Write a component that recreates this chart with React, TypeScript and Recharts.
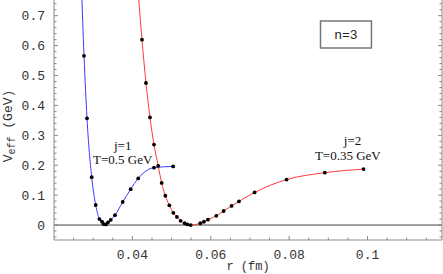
import { LineChart, Line, XAxis, YAxis, ReferenceLine, ReferenceDot, ReferenceArea } from 'recharts';

// j=1 curve (T=0.5 GeV); first point lies above the frame, it only sets the slope at the top
const BLUE_R = [0.027, 0.02766, 0.02842, 0.02962, 0.03064, 0.03159, 0.03225, 0.03268, 0.03327, 0.03378, 0.03447, 0.03556, 0.03753, 0.03957, 0.04148, 0.04551, 0.0504];
const BLUE_V = [0.8, 0.566, 0.357, 0.16, 0.067, 0.02, 0.011, 0.003, 0.002, 0.009, 0.017, 0.033, 0.077, 0.12, 0.156, 0.192, 0.196];

// j=2 curve (T=0.35 GeV)
const RED_R = [0.041, 0.04245, 0.04347, 0.04449, 0.04551, 0.04658, 0.04747, 0.04841, 0.04943, 0.05045, 0.05137, 0.05232, 0.05334, 0.05402, 0.05487, 0.05734, 0.05826, 0.05928, 0.06142, 0.06328, 0.06532, 0.06718, 0.07118, 0.07934, 0.08911, 0.09897];
const RED_V = [0.86, 0.62, 0.475, 0.36, 0.269, 0.198, 0.141, 0.098, 0.066, 0.041, 0.027, 0.014, 0.006, 0.002, 0.0, 0.006, 0.011, 0.018, 0.031, 0.047, 0.064, 0.079, 0.109, 0.152, 0.175, 0.187];

const X_DOMAIN = [0.02, 0.119];
const Y_DOMAIN = [-0.05, 0.7525];

const X_MAJOR = [0.04, 0.06, 0.08, 0.1];
const X_LABELS = ['0.04', '0.06', '0.08', '0.1'];
const Y_MAJOR = [0, 0.1, 0.2, 0.3, 0.4, 0.5, 0.6, 0.7];
const Y_LABELS = ['0', '0.1', '0.2', '0.3', '0.4', '0.5', '0.6', '0.7'];

// minor ticks: every 0.005 on r, every 0.02 on V
const X_TICKS: number[] = [];
for (let i = 5; i <= 23; i++) X_TICKS.push(+(i * 0.005).toFixed(3));
const Y_TICKS: number[] = [];
for (let i = -2; i <= 37; i++) Y_TICKS.push(+(i * 0.02).toFixed(2));

const blueData = BLUE_R.map((r, i) => ({ r, v: BLUE_V[i] }));
const redData = RED_R.map((r, i) => ({ r, v: RED_V[i] }));

const MONO = '"Liberation Mono", "Courier New", monospace';
const SERIF = '"Liberation Serif", "Times New Roman", serif';
const FRAME = '#8a8a8a';

const majorIndex = (list: number[], v: number) => list.findIndex((m) => Math.abs(m - v) < 1e-6);

const BottomTick = ({ x, y, payload }: any) => {
  const i = majorIndex(X_MAJOR, payload.value);
  return (
    <g>
      <line x1={x} x2={x} y1={y} y2={y - (i >= 0 ? 4 : 2.5)} stroke={FRAME} />
      {i >= 0 && (
        <text x={x} y={y + 19} textAnchor="middle" fontFamily={MONO} fontSize={13} fill="#333">
          {X_LABELS[i]}
        </text>
      )}
    </g>
  );
};

const TopTick = ({ x, y, payload }: any) => {
  const i = majorIndex(X_MAJOR, payload.value);
  return <line x1={x} x2={x} y1={y} y2={y + (i >= 0 ? 4 : 2.5)} stroke={FRAME} />;
};

const LeftTick = ({ x, y, payload }: any) => {
  const i = majorIndex(Y_MAJOR, payload.value);
  return (
    <g>
      <line x1={x} x2={x + (i >= 0 ? 4 : 2.5)} y1={y} y2={y} stroke={FRAME} />
      {i >= 0 && (
        <text x={x - 9} y={y + 4.5} textAnchor="end" fontFamily={MONO} fontSize={13} fill="#333">
          {Y_LABELS[i]}
        </text>
      )}
    </g>
  );
};

const RightTick = ({ x, y, payload }: any) => {
  const i = majorIndex(Y_MAJOR, payload.value);
  return <line x1={x} x2={x - (i >= 0 ? 4 : 2.5)} y1={y} y2={y} stroke={FRAME} />;
};

const YLabel = ({ viewBox }: any) => {
  const cx = viewBox.x + 12;
  const cy = viewBox.y + viewBox.height / 2 + 6;
  return (
    <text transform={`translate(${cx},${cy}) rotate(-90)`} textAnchor="middle" fontFamily={MONO} fontSize={13} fill="#333">
      <tspan>V</tspan>
      <tspan fontSize={10} dy={3}>eff</tspan>
      <tspan dy={-3}> (GeV)</tspan>
    </text>
  );
};

const XLabel = ({ viewBox }: any) => (
  <text x={viewBox.x + viewBox.width / 2} y={viewBox.y + 30} textAnchor="middle" fontFamily={MONO} fontSize={12} fill="#333">
    r (fm)
  </text>
);

const BoxLabel = ({ viewBox }: any) => (
  <text x={viewBox.x + viewBox.width / 2} y={viewBox.y + viewBox.height / 2 + 4.5} textAnchor="middle" fontFamily={MONO} fontSize={13} fill="#222">
    n=3
  </text>
);

const renderDot = (p: any) =>
  p.payload.v > 0.75 ? (
    <g key={`d${p.index}`} />
  ) : (
    <circle key={`d${p.index}`} cx={p.cx} cy={p.cy} r={1.9} fill="#000" />
  );

const note = (txt: string) => (p: any) => (
  <text x={p.cx} y={p.cy} textAnchor="middle" fontFamily={SERIF} fontSize={13} fill="#111">
    {txt}
  </text>
);

export default function App() {
  return (
    <div style={{ position: 'absolute', left: 0, top: 0, background: '#fff' }}>
      <LineChart width={443} height={274} margin={{ top: 0, right: 0, left: 0, bottom: 0 }}>
        <XAxis
          xAxisId="b"
          type="number"
          dataKey="r"
          domain={X_DOMAIN}
          allowDataOverflow
          ticks={X_TICKS}
          interval={0}
          tickSize={0}
          tickMargin={0}
          height={34}
          axisLine={{ stroke: FRAME }}
          tickLine={false}
          tick={BottomTick}
          label={{ content: XLabel }}
        />
        <XAxis
          xAxisId="t"
          orientation="top"
          type="number"
          dataKey="r"
          domain={X_DOMAIN}
          allowDataOverflow
          ticks={X_TICKS}
          interval={0}
          tickSize={0}
          tickMargin={0}
          height={0}
          axisLine={{ stroke: FRAME }}
          tickLine={false}
          tick={TopTick}
        />
        <YAxis
          yAxisId="l"
          type="number"
          domain={Y_DOMAIN}
          allowDataOverflow
          ticks={Y_TICKS}
          interval={0}
          tickSize={0}
          tickMargin={0}
          width={54}
          axisLine={{ stroke: FRAME }}
          tickLine={false}
          tick={LeftTick}
          label={{ content: YLabel }}
        />
        <YAxis
          yAxisId="rt"
          orientation="right"
          type="number"
          domain={Y_DOMAIN}
          allowDataOverflow
          ticks={Y_TICKS}
          interval={0}
          tickSize={0}
          tickMargin={0}
          width={1}
          axisLine={{ stroke: FRAME }}
          tickLine={false}
          tick={RightTick}
        />
        <ReferenceLine xAxisId="b" yAxisId="l" y={0} stroke="#444" strokeWidth={1} />
        <ReferenceArea
          xAxisId="b"
          yAxisId="l"
          x1={0.088}
          x2={0.101}
          y1={0.592}
          y2={0.682}
          fill="#fff"
          fillOpacity={1}
          stroke="#777"
          strokeWidth={1.5}
          label={{ content: BoxLabel }}
        />
        <ReferenceDot xAxisId="b" yAxisId="l" x={0.03753} y={0.251} r={0} shape={note('j=1')} />
        <ReferenceDot xAxisId="b" yAxisId="l" x={0.03753} y={0.204} r={0} shape={note('T=0.5 GeV')} />
        <ReferenceDot xAxisId="b" yAxisId="l" x={0.09617} y={0.266} r={0} shape={note('j=2')} />
        <ReferenceDot xAxisId="b" yAxisId="l" x={0.09497} y={0.219} r={0} shape={note('T=0.35 GeV')} />
        <Line
          xAxisId="b"
          yAxisId="l"
          data={blueData}
          dataKey="v"
          type="monotone"
          stroke="#3a3aff"
          strokeWidth={1}
          dot={renderDot}
          activeDot={false}
          isAnimationActive={false}
        />
        <Line
          xAxisId="b"
          yAxisId="l"
          data={redData}
          dataKey="v"
          type="monotone"
          stroke="#ff3a3a"
          strokeWidth={1}
          dot={renderDot}
          activeDot={false}
          isAnimationActive={false}
        />
      </LineChart>
    </div>
  );
}
